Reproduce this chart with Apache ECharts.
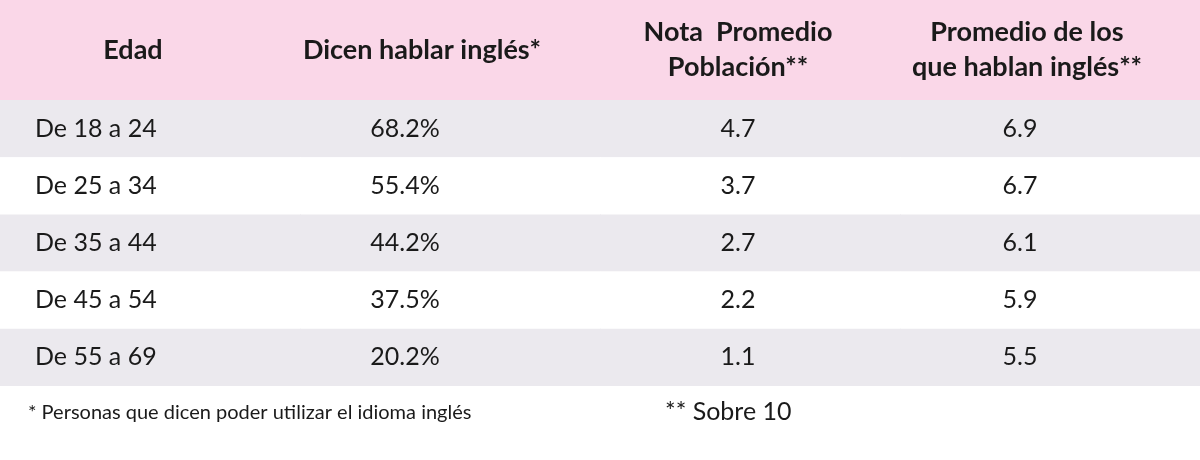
<!DOCTYPE html><html><head><meta charset="utf-8">
<script src="https://cdn.jsdelivr.net/npm/echarts@6/dist/echarts.min.js"></script>
<style>body{margin:0;background:#fff}#c{width:1200px;height:460px}</style></head><body><div id="c"></div>
<script>
const columns=['Edad','Dicen hablar inglés*','Nota  Promedio\nPoblación**','Promedio de los\nque hablan inglés**'];
const ages=['De 18 a 24','De 25 a 34','De 35 a 44','De 45 a 54','De 55 a 69'];
const speakPct=[68.2,55.4,44.2,37.5,20.2];
const avgPop=[4.7,3.7,2.7,2.2,1.1];
const avgSpeakers=[6.9,6.7,6.1,5.9,5.5];
const notes=['* Personas que dicen poder utilizar el idioma inglés','** Sobre 10'];
const F='Lato, "Open Sans", sans-serif';
const rowData=[];
ages.forEach((a,i)=>{
  rowData.push([0,i,a]);
  rowData.push([1,i,speakPct[i].toFixed(1)+'%']);
  rowData.push([2,i,avgPop[i].toFixed(1)]);
  rowData.push([3,i,avgSpeakers[i].toFixed(1)]);
});
const headData=columns.map((c,i)=>[i,0,c]);
const offs=[0,-45,-12,-30];
const chart=echarts.init(document.getElementById('c'));
chart.setOption({
  animation:false,
  grid:[{left:0,right:0,top:0,height:100},{left:0,right:0,top:100,height:286}],
  xAxis:[{type:'category',data:columns,gridIndex:0,show:false},{type:'category',data:columns,gridIndex:1,show:false}],
  yAxis:[{type:'category',data:['h'],gridIndex:0,show:false},{type:'category',data:ages,gridIndex:1,inverse:true,show:false}],
  series:[
    {type:'custom',xAxisIndex:0,yAxisIndex:0,data:headData,renderItem(p,api){
      const c=api.coord([api.value(0),0]);const s=api.size([1,1]);
      const hoff=[-17,-28,-12,-23][api.value(0)];
      return {type:'group',children:[
        {type:'rect',shape:{x:c[0]-s[0]/2,y:c[1]-s[1]/2,width:s[0]+1,height:s[1]},style:{fill:'#fad7e8'}},
        {type:'text',style:{text:columns[api.value(0)],x:c[0]+hoff,y:c[1],align:'center',verticalAlign:'middle',font:'bold 27px '+F,fill:'#1a1a1a',lineHeight:35}}]};
    }},
    {type:'custom',xAxisIndex:1,yAxisIndex:1,data:rowData,renderItem(p,api){
      const col=api.value(0),row=api.value(1);
      const c=api.coord([col,row]);const s=api.size([1,1]);
      const txt=rowData[p.dataIndex][2];
      const left=col===0;
      return {type:'group',children:[
        {type:'rect',shape:{x:c[0]-s[0]/2,y:c[1]-s[1]/2,width:s[0]+1,height:s[1]},style:{fill:row%2===0?'#ebe9ee':'#ffffff'}},
        {type:'text',style:{text:txt,x:left?c[0]-s[0]/2+35:c[0]+offs[col],y:c[1],align:left?'left':'center',verticalAlign:'middle',font:'25px '+F,fill:'#1a1a1a'}}]};
    }}
  ],
  graphic:[
    {type:'text',left:28,top:403,style:{text:notes[0],font:'20px '+F,fill:'#1a1a1a'}},
    {type:'text',left:665,top:399,style:{text:notes[1],font:'25px '+F,fill:'#1a1a1a'}}
  ]
});
</script></body></html>
